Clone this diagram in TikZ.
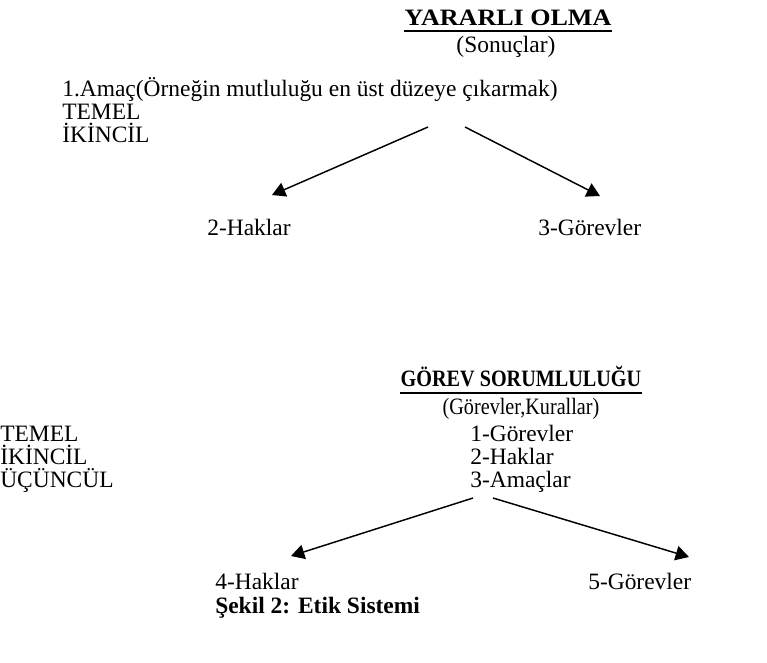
\documentclass[tikz,border=0pt]{standalone}
\usepackage{fontspec}
\setmainfont{Liberation Serif}
\newfontfamily\wideserif[FakeStretch=1.11]{Liberation Serif}
\newfontfamily\narrowserif[FakeStretch=0.86]{Liberation Serif}
\usepackage{tikz}
\usetikzlibrary{arrows.meta}

\tikzset{
  txt/.style={anchor=base west,inner sep=0pt,font=\fontsize{17.6}{19}\selectfont},
  mid/.style={anchor=base,inner sep=0pt,font=\fontsize{17.6}{19}\selectfont},
  uline/.style={line width=1.6pt},
  arr/.style={line width=1.1pt,-{Triangle[length=10pt,width=11pt]}}
}

\begin{document}
\begin{tikzpicture}[x=0.75pt,y=-0.75pt]
\useasboundingbox (0,0) rectangle (767,662);
% upper part
\node (yo) at (508,25) [mid] {\wideserif\bfseries YARARLI OLMA};
\draw [uline] ([yshift=-4.5pt]yo.base west) -- ([yshift=-4.5pt]yo.base east);
\node (son) at (506,52) [mid] {(Sonuçlar)};
\node (amac) at (62,96) [txt] {1.Amaç(Örneğin mutluluğu en üst düzeye çıkarmak)};
\node (t1) at (62,119) [txt] {TEMEL};
\node (i1) at (62,142) [txt] {İKİNCİL};
\node (h2) at (207,235) [txt] {2-Haklar};
\node (g3) at (538,235) [txt] {3-Görevler};
\coordinate (a1) at (428,127);
\coordinate (a2) at (465,127);
\coordinate (e1) at (272,195);
\coordinate (e2) at (600,196);
\draw [arr] (a1) -- (e1);
\draw [arr] (a2) -- (e2);
% lower part
\node (gs) at (521,386) [mid] {\narrowserif\bfseries GÖREV SORUMLULUĞU};
\draw [uline] ([yshift=-5pt]gs.base west) -- ([yshift=-5pt]gs.base east);
\node (gk) at (521,414) [mid] {\narrowserif(Görevler,Kurallar)};
\node (t2) at (0,441) [txt] {TEMEL};
\node (i2) at (0,464) [txt] {İKİNCİL};
\node (u2) at (0,487) [txt] {ÜÇÜNCÜL};
\node (g1) at (470,441) [txt] {1-Görevler};
\node (h1) at (470,464) [txt] {2-Haklar};
\node (am3) at (470,487) [txt] {3-Amaçlar};
\node (h4) at (215,589) [txt] {4-Haklar};
\node (g5) at (588,589) [txt] {5-Görevler};
\coordinate (b1) at (473,498);
\coordinate (b2) at (493,498);
\coordinate (f1) at (291,556);
\coordinate (f2) at (689,557);
\draw [arr] (b1) -- (f1);
\draw [arr] (b2) -- (f2);
\node (sek) at (215,613) [txt] {\textbf{Şekil 2: Etik Sistemi}};
\end{tikzpicture}
\end{document}
